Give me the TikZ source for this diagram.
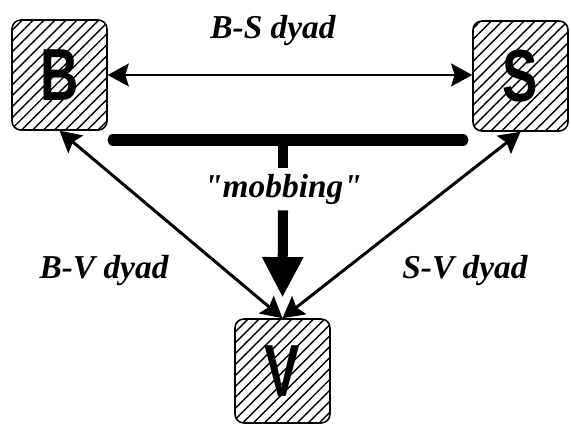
\documentclass[tikz,border=0pt]{standalone}
\usepackage{fontspec}
\setmainfont{Liberation Serif}
\newfontfamily\letterfont{Liberation Sans}
\usepackage{tikz}
\usetikzlibrary{arrows.meta,patterns.meta}

\newcommand{\actorletter}[1]{\scalebox{0.72}[1]{#1}}

\tikzset{
  actor/.style={draw,line width=0.9pt,rounded corners=5pt,minimum width=1.9cm,minimum height=2.2cm,
    pattern={Lines[angle=45,distance=4.4pt,line width=0.8pt]},font=\letterfont\bfseries\fontsize{42}{44}\selectfont},
  dyad/.style={font=\bfseries\itshape\fontsize{19}{21}\selectfont},
  dyadarrow/.style={line width=1.7pt,{Stealth[length=12pt,width=13pt,inset=2pt]}-{Stealth[length=12pt,width=13pt,inset=2pt]}}
}

\begin{document}
\begin{tikzpicture}[x=0.02cm,y=-0.02cm]
        \useasboundingbox (0,0) rectangle (571,425);
        \node[actor] (B) at (59.5,75) {\actorletter{B}};
        \node[actor] (S) at (520.5,76) {\actorletter{S}};
        \node[actor,minimum height=2.08cm] (V) at (282.5,371) {\actorletter{V}};
        \draw[dyadarrow] (B.east) -- (B.east -| S.west);
        \draw[dyadarrow] (B.south) -- (V.north);
        \draw[dyadarrow] (S.south) -- (V.north);
        \node[dyad] (bs) at (273,31) {B-S dyad};
        \node[dyad] (bv) at (104,271) {B-V dyad};
        \node[dyad] (sv) at (465,271) {S-V dyad};
        \node[dyad] (mob) at (283,189) {\textquotedbl mobbing\textquotedbl};
        \coordinate (barL) at (113,140);
        \coordinate (barR) at (463,140);
        \coordinate (barM) at (283,140);
        \draw[line width=6.3pt,line cap=round] (barL) -- (barR);
        \draw[line width=5.7pt] (barM) -- (mob.north);
        \draw[line width=5.7pt,-{Triangle[length=23pt,width=22pt]}] (mob.south) -- ([yshift=11.8pt]V.north);
      \end{tikzpicture}
\end{document}
